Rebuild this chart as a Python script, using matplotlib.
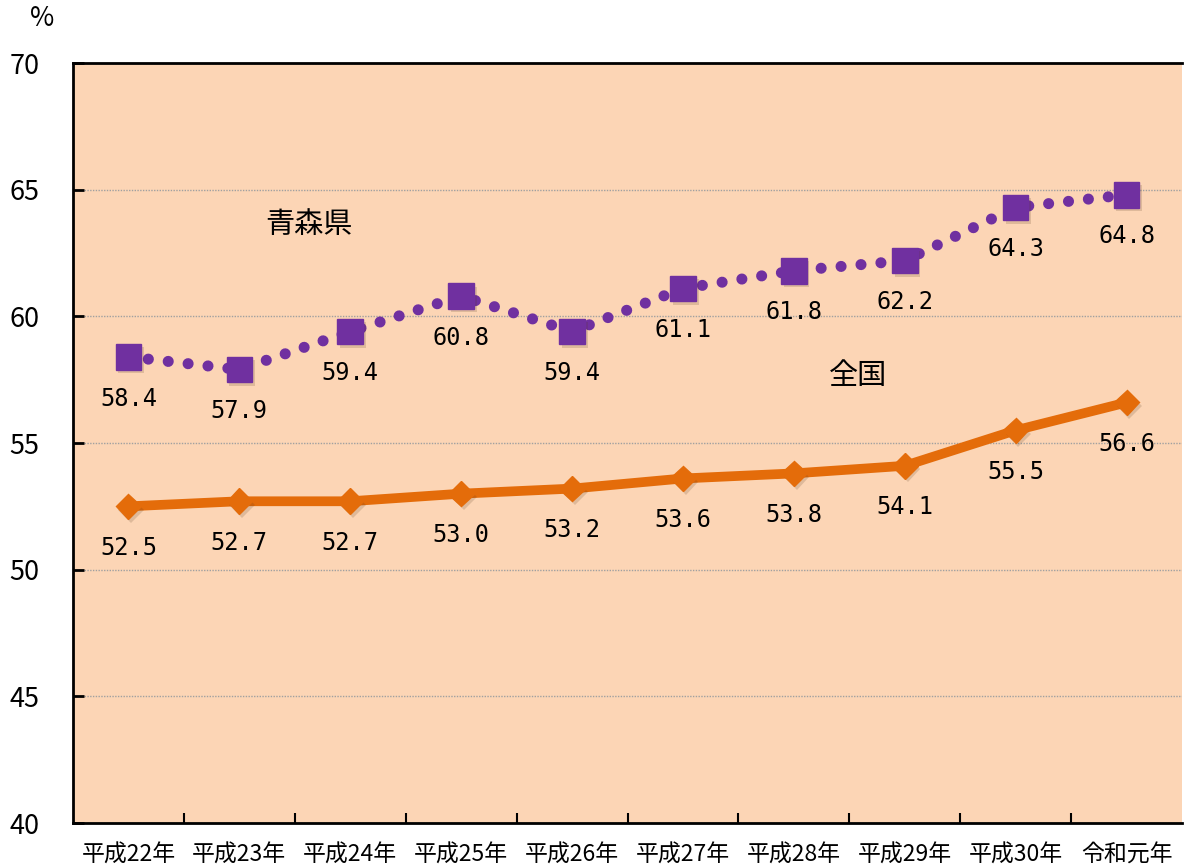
#!/usr/bin/env python3
"""plot.py - 青森県 vs 全国 line chart (H22 - R1)."""

import matplotlib
matplotlib.use("Agg")
import matplotlib.pyplot as plt
import matplotlib.patheffects as pe
import numpy as np

plt.rcParams['font.family'] = ['Noto Sans CJK JP', 'DejaVu Sans']

# ── data ─────────────────────────────────────────────────────────────────────
years = ["平成22年", "平成23年", "平成24年", "平成25年", "平成26年",
         "平成27年", "平成28年", "平成29年", "平成30年", "令和元年"]
aomori = [58.4, 57.9, 59.4, 60.8, 59.4, 61.1, 61.8, 62.2, 64.3, 64.8]
zenkoku = [52.5, 52.7, 52.7, 53.0, 53.2, 53.6, 53.8, 54.1, 55.5, 56.6]
y_ticks = [40, 45, 50, 55, 60, 65, 70]

PURPLE = "#7030A0"
ORANGE = "#E46C0A"
PEACH = "#FCD5B5"

x = np.arange(len(years))

fig = plt.figure(figsize=(11.86, 8.67), dpi=100)
ax = fig.add_axes([73 / 1186, 1 - 823 / 867, (1182 - 73) / 1186, (823 - 63) / 867])
ax.set_facecolor(PEACH)

shadow = [pe.SimplePatchShadow(offset=(2, -2.5), alpha=0.18, shadow_rgbFace="#5a3a20"),
          pe.Normal()]

# 全国 (solid orange with diamonds)
ax.plot(x, zenkoku, color=ORANGE, lw=7, solid_capstyle="round", zorder=3)
ax.plot(x, zenkoku, ls="none", marker="D", ms=13, color=ORANGE,
        path_effects=shadow, zorder=4)

# 青森県 (purple round dots with squares)
ax.plot(x, aomori, color=PURPLE, lw=8, dashes=(0.001, 1.8),
        dash_capstyle="round", zorder=3)
ax.plot(x, aomori, ls="none", marker="s", ms=18.5, color=PURPLE,
        path_effects=shadow, zorder=4)

for xi, v in zip(x, aomori):
    ax.annotate(f"{v:.1f}", (xi, v), xytext=(0, -30), textcoords="offset points",
                ha="center", va="center", fontsize=17,
                family="DejaVu Sans Mono", zorder=5)
for xi, v in zip(x, zenkoku):
    ax.annotate(f"{v:.1f}", (xi, v), xytext=(0, -30), textcoords="offset points",
                ha="center", va="center", fontsize=17,
                family="DejaVu Sans Mono", zorder=5)

ax.text(1.63, 63.6, "青森県", fontsize=21, ha="center", va="center")
ax.text(6.58, 57.65, "全国", fontsize=21, ha="center", va="center")

# axes
ax.set_xlim(-0.5, len(years) - 0.5)
ax.set_ylim(40, 70)
ax.set_yticks(y_ticks)
ax.yaxis.grid(True, color="#A0A0A0", ls=(0, (1, 1)), lw=1)
ax.set_axisbelow(True)
ax.tick_params(axis="y", direction="in", length=8, width=2, labelsize=19.5, pad=24)

ax.set_xticks(x)
ax.set_xticklabels(years, fontsize=16.5)
ax.set_xticks(np.arange(0.5, len(years) - 1, 1.0), minor=True)
ax.tick_params(axis="x", which="major", length=0, pad=15)
ax.tick_params(axis="x", which="minor", direction="in", length=7, width=1.5)

for side in ("left", "bottom", "top"):
    ax.spines[side].set_linewidth(2)
ax.spines["right"].set_visible(False)

fig.text(42 / 1186, 1 - 18 / 867, "%", fontsize=19, ha="center", va="center")

fig.savefig("out.png", dpi=100)
